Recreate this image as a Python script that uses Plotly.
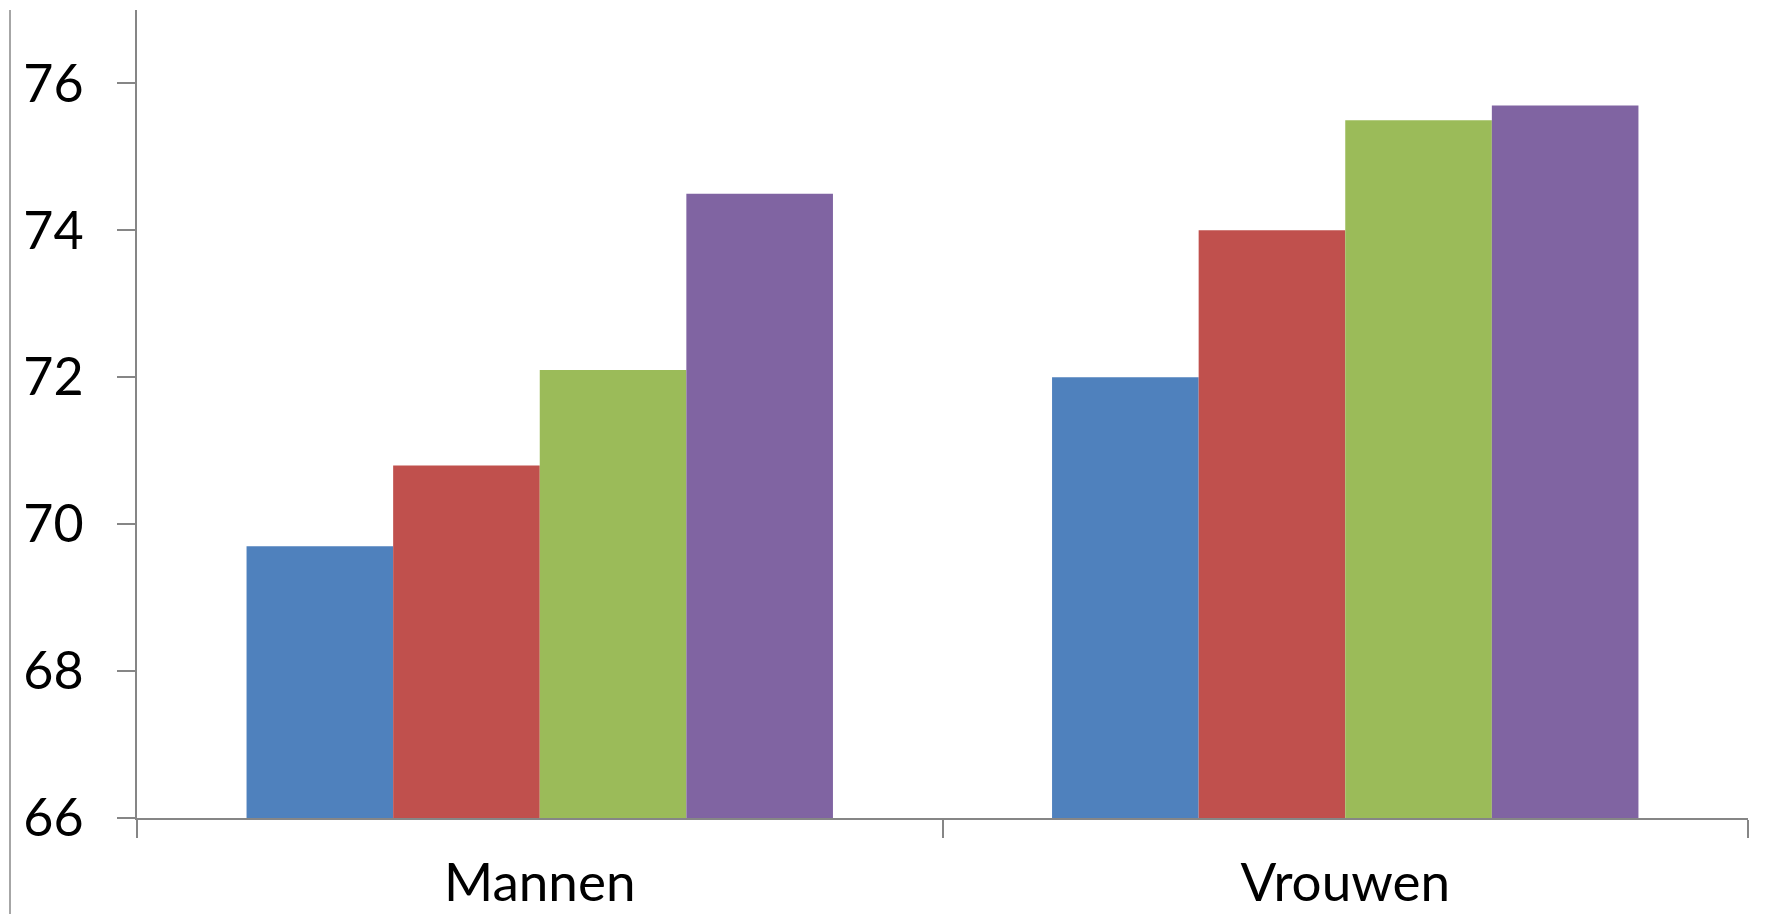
import plotly.graph_objects as go

categories = ["Mannen", "Vrouwen"]
series_names = ["Reeks 1", "Reeks 2", "Reeks 3", "Reeks 4"]
series_values = [
    [69.7, 72.0],
    [70.8, 74.0],
    [72.1, 75.5],
    [74.5, 75.7],
]
colors = ["#4F81BD", "#C0504D", "#9BBB59", "#8064A2"]
y_ticks = [66, 68, 70, 72, 74, 76]

# page body has an 8px margin, so the figure is sized to fill the rest of the window
W, H = 1761, 909
ml, mr, mt, mb = 129, 21, 2, 99

fig = go.Figure()
for name, vals, col in zip(series_names, series_values, colors):
    fig.add_trace(go.Bar(
        x=categories, y=[v - 66 for v in vals], base=66, name=name,
        marker=dict(color=col, line=dict(width=0)),
        hoverinfo="skip",
    ))

axis_col = "#868686"
fig.update_layout(
    width=W, height=H,
    margin=dict(l=ml, r=mr, t=mt, b=mb, autoexpand=False),
    paper_bgcolor="white", plot_bgcolor="white",
    barmode="group", bargap=0.272, bargroupgap=0,
    showlegend=False,
    font=dict(family="Lato", size=52, color="black"),
    xaxis=dict(
        type="category", range=[-0.5, 1.5], automargin=False,
        showline=True, linecolor=axis_col, linewidth=2,
        ticks="outside", tickson="boundaries", ticklen=18, tickwidth=2, tickcolor=axis_col,
        showgrid=False, zeroline=False,
        tickfont=dict(size=53),
        ticklabelstandoff=17,
    ),
    yaxis=dict(
        range=[66, 77], tickvals=y_ticks, automargin=False,
        showline=True, linecolor=axis_col, linewidth=2,
        ticks="outside", ticklen=18, tickwidth=2, tickcolor=axis_col,
        showgrid=False, zeroline=False,
        ticklabelstandoff=23,
    ),
)

# outer left border line of the chart frame
pw = W - ml - mr
ph = H - mt - mb
x_left = (2 - ml) / pw
fig.add_shape(type="line", xref="paper", yref="paper",
              x0=x_left, x1=x_left, y0=(H - mb - 906) / ph, y1=(H - mb - 2) / ph,
              line=dict(color="#A6A6A6", width=2))

fig.write_html("out.html")
